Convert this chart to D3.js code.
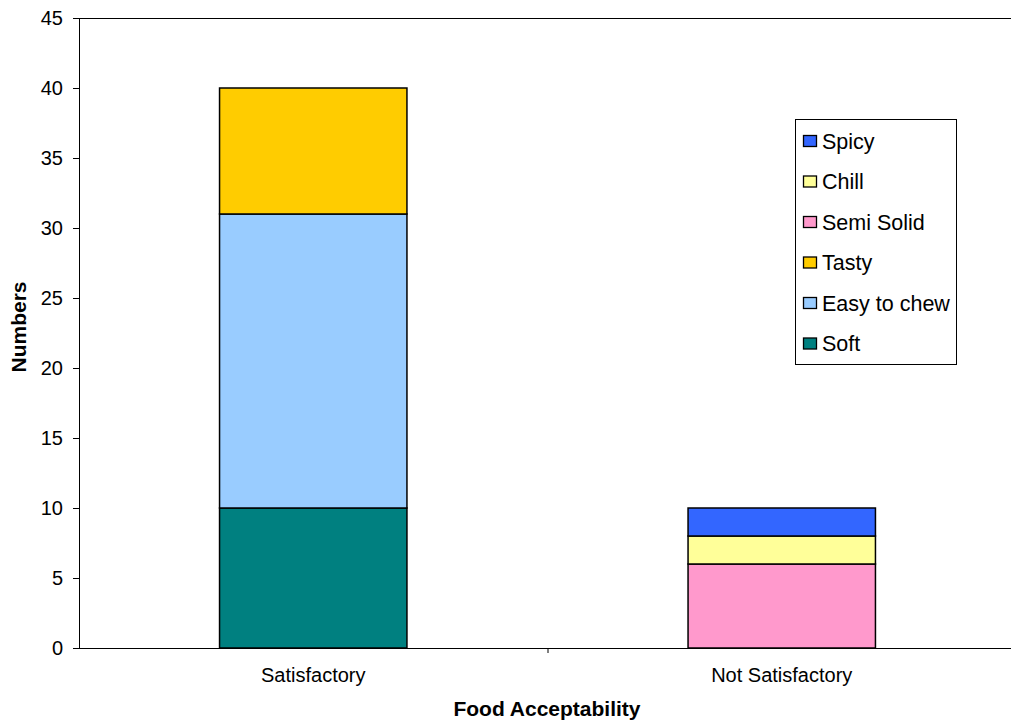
<!DOCTYPE html>
<html>
<head>
<meta charset="utf-8">
<script src="https://cdn.jsdelivr.net/npm/d3@7/dist/d3.min.js"></script>
<style>
  html, body { margin: 0; padding: 0; background: #fff; }
  svg { display: block; font-family: Arial, "Liberation Sans", sans-serif; }
</style>
</head>
<body>
<svg id="chart" width="1011" height="726"></svg>
<script>
// Response categories on the x axis
const categories = ["Satisfactory", "Not Satisfactory"];
// Food attributes, bottom of the stack first
const seriesNames = ["Soft", "Easy to chew", "Tasty", "Semi Solid", "Chill", "Spicy"];
// Counts per attribute, one value per category
const soft       = [10, 0];
const easyToChew = [21, 0];
const tasty      = [9, 0];
const semiSolid  = [0, 6];
const chill      = [0, 2];
const spicy      = [0, 2];
const seriesColors = ["#008080", "#99CCFF", "#FFCC00", "#FF99CC", "#FFFF99", "#3366FF"];
const yTicks = [0, 5, 10, 15, 20, 25, 30, 35, 40, 45];
// Legend lists the attributes top-down, reverse of the stack
const legendOrder = ["Spicy", "Chill", "Semi Solid", "Tasty", "Easy to chew", "Soft"];

const seriesValues = [soft, easyToChew, tasty, semiSolid, chill, spicy];
const rows = categories.map((c, i) => {
  const r = { category: c };
  seriesNames.forEach((s, k) => { r[s] = seriesValues[k][i]; });
  return r;
});
const stacked = d3.stack().keys(seriesNames)(rows);
const color = d3.scaleOrdinal().domain(seriesNames).range(seriesColors);

const svg = d3.select("#chart");
const plotLeft = 79, plotTop = 18, plotBottom = 648, plotRight = 1016;
const FONT = "Arial, 'Liberation Sans', sans-serif";

const x = d3.scaleBand().domain(categories).range([plotLeft, plotRight]).paddingInner(0).paddingOuter(0);
const y = d3.scaleLinear().domain([0, 45]).range([plotBottom, plotTop]);
const barW = x.bandwidth() * 0.4;

// top frame line
svg.append("line")
  .attr("x1", plotLeft).attr("x2", plotRight).attr("y1", plotTop + 0.5).attr("y2", plotTop + 0.5)
  .attr("stroke", "#000").attr("stroke-width", 1);

// stacked bars
svg.append("g").selectAll("g")
  .data(stacked).join("g")
  .attr("fill", d => color(d.key))
  .selectAll("rect")
  .data(d => d.filter(p => p[1] - p[0] > 0))
  .join("rect")
  .attr("x", d => x(d.data.category) + (x.bandwidth() - barW) / 2)
  .attr("y", d => y(d[1]))
  .attr("width", barW)
  .attr("height", d => y(d[0]) - y(d[1]))
  .attr("stroke", "#000")
  .attr("stroke-width", 1.5);

// y axis
const yAxis = svg.append("g")
  .attr("transform", `translate(${plotLeft},0)`)
  .call(d3.axisLeft(y).tickValues(yTicks).tickSize(6).tickPadding(10).tickSizeOuter(0));
yAxis.attr("font-family", FONT).attr("font-size", 20);
yAxis.select(".domain").attr("stroke", "#000");
yAxis.selectAll("text").attr("fill", "#000");

// x axis with ticks at the band boundaries
const xAxisG = svg.append("g").attr("transform", `translate(0,${plotBottom})`);
xAxisG.append("line")
  .attr("x1", plotLeft).attr("x2", plotRight).attr("y1", 0.5).attr("y2", 0.5)
  .attr("stroke", "#000");
xAxisG.selectAll("line.tick")
  .data(categories.slice(1))
  .join("line").attr("class", "tick")
  .attr("x1", d => x(d) + 0.5).attr("x2", d => x(d) + 0.5)
  .attr("y1", 0).attr("y2", 5).attr("stroke", "#000");
xAxisG.selectAll("text")
  .data(categories)
  .join("text")
  .attr("x", d => x(d) + x.bandwidth() / 2)
  .attr("y", 34)
  .attr("text-anchor", "middle")
  .attr("font-size", 20)
  .text(d => d);

// axis titles
svg.append("text")
  .attr("x", 547).attr("y", 716)
  .attr("text-anchor", "middle").attr("font-size", 21).attr("font-weight", "bold")
  .text("Food Acceptability");
svg.append("text")
  .attr("transform", `translate(26,327) rotate(-90)`)
  .attr("text-anchor", "middle").attr("font-size", 21).attr("font-weight", "bold")
  .text("Numbers");

// legend
const lg = svg.append("g");
lg.append("rect")
  .attr("x", 795.5).attr("y", 119.5).attr("width", 161).attr("height", 245)
  .attr("fill", "#fff").attr("stroke", "#000");
const items = lg.selectAll("g.item")
  .data(legendOrder).join("g").attr("class", "item")
  .attr("transform", (d, i) => `translate(803,${141 + i * 40.5})`);
items.append("rect")
  .attr("x", 0.5).attr("y", -5.5).attr("width", 13).attr("height", 11)
  .attr("fill", d => color(d)).attr("stroke", "#000").attr("stroke-width", 1.3);
items.append("text")
  .attr("x", 19).attr("y", 0).attr("dy", "0.36em")
  .attr("font-size", 21.5)
  .text(d => d);
</script>
</body>
</html>
